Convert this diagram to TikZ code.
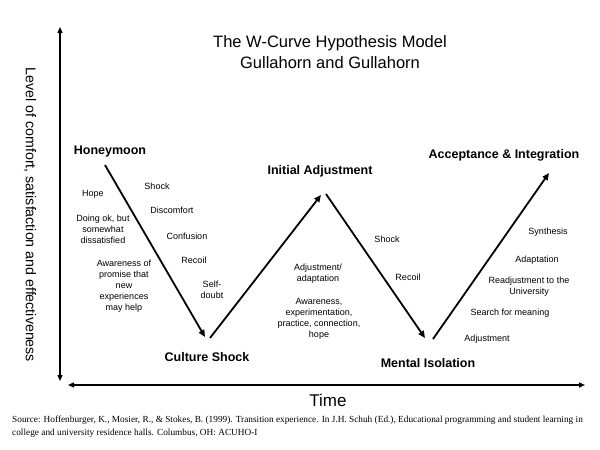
\documentclass[tikz,border=0pt]{standalone}
\usepackage{fontspec}
\setmainfont{Liberation Sans}
\newfontfamily\srcfont{Liberation Serif}
\usetikzlibrary{arrows.meta}
\begin{document}
\begin{tikzpicture}[x=1pt,y=-1pt,
  stage/.style={font=\fontsize{12.5}{14}\selectfont\bfseries, inner sep=0pt},
  lbl/.style={font=\fontsize{9}{11}\selectfont, align=center, inner sep=0pt},
  wline/.style={line width=1.8pt, -{Triangle[length=7pt,width=6pt]}},
  axis/.style={line width=1.4pt, {Triangle[length=6pt,width=5pt]}-{Triangle[length=6pt,width=5pt]}}]
\useasboundingbox (0,0) rectangle (600,450);
% title
\node[font=\fontsize{16.5}{21}\selectfont, align=center, inner sep=0pt] (title) at (330,52) {The W-Curve Hypothesis Model\\Gullahorn and Gullahorn};
% axes
\coordinate (ytop) at (60,27);
\coordinate (ybot) at (60,381);
\coordinate (xl) at (68,385);
\coordinate (xr) at (585,385);
\draw[axis] (ytop) -- (ybot);
\draw[axis] (xl) -- (xr);
\node[rotate=-90, font=\fontsize{14.2}{16}\selectfont, inner sep=0pt] (ylabel) at (30,215) {Level of comfort, satisfaction and effectiveness};
\node[font=\fontsize{17}{20}\selectfont, inner sep=0pt] (time) at (328,400) {Time};
% W curve
\coordinate (a1) at (105,165);
\coordinate (a2) at (205,337);
\coordinate (b1) at (210,338);
\coordinate (b2) at (321,195);
\coordinate (c1) at (326,194);
\coordinate (c2) at (425,338);
\coordinate (d1) at (433,339);
\coordinate (d2) at (549,173);
\draw[wline] (a1) -- (a2);
\draw[wline] (b1) -- (b2);
\draw[wline] (c1) -- (c2);
\draw[wline] (d1) -- (d2);
% stage labels
\node[stage] (honey) at (110,151) {Honeymoon};
\node[stage] (culture) at (207,357) {Culture Shock};
\node[stage] (initial) at (320,171) {Initial Adjustment};
\node[stage] (mental) at (428,363) {Mental Isolation};
\node[stage] (accept) at (504,155) {Acceptance \& Integration};
% small labels
\node[lbl] (hope) at (93,194) {Hope};
\node[lbl] (doing) at (103,229) {Doing ok, but\\somewhat\\dissatisfied};
\node[lbl] (aware) at (124,286) {Awareness of\\promise that\\new\\experiences\\may help};
\node[lbl] (shock1) at (157,186) {Shock};
\node[lbl] (discomfort) at (172,210) {Discomfort};
\node[lbl] (confusion) at (187,236) {Confusion};
\node[lbl] (recoil1) at (194,260) {Recoil};
\node[lbl] (self) at (212,290) {Self-\\doubt};
\node[lbl] (adjad) at (318,274) {Adjustment/\\adaptation};
\node[lbl] (aware2) at (319,318.5) {Awareness,\\experimentation,\\practice, connection,\\hope};
\node[lbl] (shock2) at (387,239) {Shock};
\node[lbl] (recoil2) at (408,277) {Recoil};
\node[lbl] (synth) at (548,232) {Synthesis};
\node[lbl] (adapt) at (537,260) {Adaptation};
\node[lbl] (readj) at (529,287) {Readjustment to the\\University};
\node[lbl] (search) at (510,313) {Search for meaning};
\node[lbl] (adj) at (487,339) {Adjustment};
% source
\node[anchor=north west, font=\srcfont\fontsize{9.3}{13}\selectfont, align=left, inner sep=0pt] (source) at (12,416) {Source: Hoffenburger, K., Mosier, R., \& Stokes, B. (1999). Transition experience. In J.H. Schuh (Ed.), Educational programming and student learning in\\college and university residence halls. Columbus, OH: ACUHO-I};
\end{tikzpicture}
\end{document}
